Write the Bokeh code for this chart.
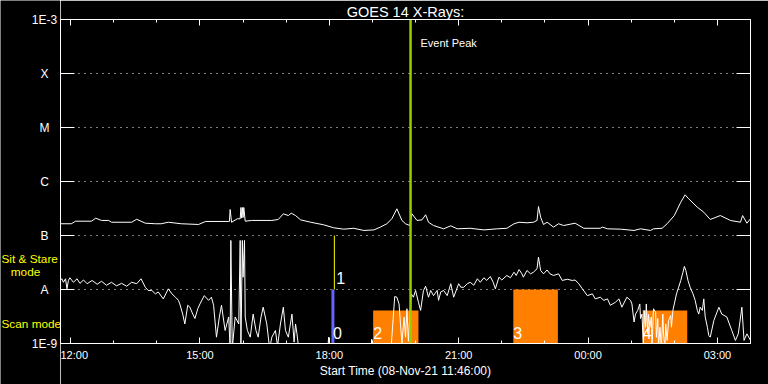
from bokeh.plotting import figure
from bokeh.layouts import row
from bokeh.core.properties import value
from bokeh.models import (ColumnDataSource, FixedTicker, LinearAxis, LogAxis,
                          Label, LabelSet, Range1d)
from bokeh.embed import file_html
from bokeh.resources import INLINE

# ---------------- data ----------------
START = "11:46"
END = "03:46"
x_tick_labels = ["12:00", "15:00", "18:00", "21:00", "00:00", "03:00"]
y_ticks = [1e-9, 1e-8, 1e-7, 1e-6, 1e-5, 1e-4, 1e-3]
y_tick_labels = ["1E-9", "A", "B", "C", "M", "X", "1E-3"]

# long channel (upper curve)
long_t = ["11:46", "12:01", "12:07", "12:29", "12:35", "12:43", "12:53", "12:57", "13:25", "13:32",
          "13:44", "13:58", "14:06", "14:16", "14:34", "14:58", "15:08", "15:40", "15:41", "15:42",
          "15:44", "15:52", "15:56", "15:57", "15:58", "15:59", "16:00", "16:01", "16:03", "16:12",
          "16:40", "16:49", "16:56", "17:03", "17:07", "17:13", "17:20", "17:34", "17:52", "18:06",
          "18:20", "18:34", "18:48", "19:02", "19:11", "19:20", "19:27", "19:34", "19:41", "19:46",
          "19:52", "19:55", "20:02", "20:09", "20:14", "20:18", "20:25", "20:39", "20:49", "20:58",
          "21:16", "21:35", "21:54", "22:07", "22:17", "22:24", "22:35", "22:44", "22:49", "22:51",
          "22:54", "22:58", "23:03", "23:12", "23:19", "23:26", "23:42", "23:54", "00:17", "00:20",
          "00:27", "00:45", "01:04", "01:13", "01:27", "01:31", "01:43", "01:50", "02:00", "02:09",
          "02:15", "02:20", "02:32", "02:41", "02:50", "03:04", "03:18", "03:32", "03:35", "03:41",
          "03:46"]
long_f = [1.65e-7, 1.65e-7, 1.84e-7, 1.84e-7, 2.09e-7, 1.90e-7, 1.90e-7, 1.76e-7, 1.76e-7, 2.00e-7,
          1.69e-7, 1.65e-7, 1.65e-7, 1.76e-7, 1.65e-7, 1.60e-7, 1.82e-7, 1.82e-7, 1.82e-7, 3.03e-7,
          1.76e-7, 2.04e-7, 2.04e-7, 3.30e-7, 2.10e-7, 3.30e-7, 2.15e-7, 3.30e-7, 1.84e-7, 1.90e-7,
          1.90e-7, 1.98e-7, 2.52e-7, 2.34e-7, 2.59e-7, 2.34e-7, 1.95e-7, 1.76e-7, 1.58e-7, 1.39e-7,
          1.31e-7, 1.36e-7, 1.24e-7, 1.27e-7, 1.43e-7, 1.65e-7, 2.04e-7, 3.12e-7, 1.90e-7, 1.65e-7,
          1.53e-7, 2.52e-7, 1.90e-7, 1.95e-7, 2.42e-7, 1.76e-7, 1.53e-7, 1.33e-7, 1.51e-7, 1.33e-7,
          1.36e-7, 1.27e-7, 1.33e-7, 1.36e-7, 1.65e-7, 1.76e-7, 1.72e-7, 1.76e-7, 1.90e-7, 3.44e-7,
          2.18e-7, 1.60e-7, 1.76e-7, 1.43e-7, 1.65e-7, 1.53e-7, 1.69e-7, 1.36e-7, 1.36e-7, 1.43e-7,
          1.33e-7, 1.31e-7, 1.24e-7, 1.33e-7, 1.24e-7, 1.33e-7, 1.36e-7, 1.65e-7, 2.34e-7, 4.14e-7,
          5.67e-7, 4.78e-7, 3.34e-7, 2.70e-7, 1.98e-7, 2.34e-7, 1.90e-7, 1.76e-7, 2.34e-7, 1.69e-7,
          2.04e-7]

# short channel (lower curve), in four pieces
short_t_1 = ["11:46", "11:48", "11:50", "11:53", "11:55", "11:57", "11:59", "12:04", "12:09", "12:13",
             "12:18", "12:23", "12:30", "12:37", "12:43", "12:50", "12:57", "13:04", "13:11", "13:18",
             "13:25", "13:32", "13:38", "13:44", "13:48", "13:53", "13:58", "14:02", "14:09", "14:16",
             "14:21", "14:26", "14:30", "14:32", "14:36", "14:39", "14:43", "14:46", "14:50", "14:53",
             "14:57", "15:00", "15:06", "15:12", "15:16", "15:19", "15:23", "15:27", "15:30", "15:35"]
short_f_1 = [1.50e-8, 1.58e-8, 1.36e-8, 1.58e-8, 1.03e-8, 1.47e-8, 1.65e-8, 1.36e-8, 1.58e-8, 1.30e-8,
             1.50e-8, 1.28e-8, 1.47e-8, 1.25e-8, 1.42e-8, 1.20e-8, 1.36e-8, 1.17e-8, 1.30e-8, 1.15e-8,
             1.36e-8, 1.28e-8, 1.58e-8, 1.10e-8, 9.6e-9, 9.6e-9, 8.3e-9, 9.0e-9, 6.7e-9, 1.03e-8,
             8.3e-9, 7.2e-9, 6.3e-9, 5.4e-9, 3.5e-9, 2.3e-9, 5.1e-9, 4.7e-9, 3.5e-9, 2.9e-9,
             4.4e-9, 5.4e-9, 7.7e-9, 6.3e-9, 7.2e-9, 5.1e-9, 1.31e-9, 3.1e-9, 5.1e-9, 1.74e-9]

short_t_2 = ["15:40", "15:42", "15:43", "15:45", "15:49", "15:54", "15:56", "15:57", "15:59", "16:00",
             "16:02", "16:03", "16:06", "16:10", "16:14", "16:18", "16:21", "16:25", "16:28", "16:33",
             "16:37", "16:40", "16:45", "16:48", "16:52", "16:56", "16:59", "17:03", "17:08", "17:11",
             "17:13", "17:15", "17:17", "17:20", "17:57", "17:59", "18:01", "18:57", "18:59", "19:01",
             "19:25", "19:27", "19:31", "19:34", "19:37", "19:39", "19:41", "19:44", "19:46", "19:48",
             "19:50", "19:54", "19:57", "20:00", "20:04", "20:07", "20:11", "20:14", "20:18", "20:21"]
short_f_2 = [3.1e-9, 8e-10, 8.1e-8, 8e-10, 3.1e-9, 2.3e-9, 8.1e-8, 8e-10, 8.1e-8, 1.69e-8,
             8.1e-8, 3.1e-9, 1.74e-9, 1.31e-9, 3.5e-9, 1.74e-9, 1.31e-9, 3.1e-9, 4.7e-9, 2.3e-9,
             8e-10, 1.31e-9, 1.74e-9, 9e-10, 2.3e-9, 4.7e-9, 1.74e-9, 1.31e-9, 3.5e-9, 1.06e-9,
             2.3e-9, 1.51e-9, 9e-10, 5e-10, 5e-10, 1.31e-9, 5e-10, 5e-10, 1.2e-9, 5e-10,
             5e-10, 1.31e-9, 7.4e-9, 7.2e-9, 5.4e-9, 2.3e-9, 1.0e-9, 3.1e-9, 1.31e-9, 4.4e-9,
             1.1e-9, 8.3e-9, 7.2e-9, 9.6e-9, 5.8e-9, 4.1e-9, 9.6e-9, 1.15e-8, 7.2e-9, 9.6e-9]

short_t_3 = ["20:25", "20:30", "20:32", "20:35", "20:39", "20:44", "20:49", "20:53", "21:00", "21:03",
             "21:07", "21:12", "21:16", "21:21", "21:26", "21:30", "21:35", "21:39", "21:44", "21:48",
             "21:51", "21:56", "22:00", "22:07", "22:12", "22:17", "22:20", "22:24", "22:28", "22:30",
             "22:35", "22:40", "22:44", "22:49", "22:51", "22:54", "22:58", "23:03", "23:07", "23:12",
             "23:19", "23:24", "23:31", "23:38", "23:42", "23:47", "23:52", "23:59", "00:06", "00:10",
             "00:17", "00:22", "00:27", "00:31", "00:38", "00:43", "00:47", "00:54", "00:59"]
short_f_3 = [7.7e-9, 9.6e-9, 6.3e-9, 9.0e-9, 9.6e-9, 7.7e-9, 1.28e-8, 7.2e-9, 1.28e-8, 1.10e-8,
             1.10e-8, 1.28e-8, 1.36e-8, 1.20e-8, 1.58e-8, 1.36e-8, 1.65e-8, 1.47e-8, 1.74e-8, 1.36e-8,
             1.03e-8, 1.69e-8, 1.50e-8, 1.82e-8, 1.65e-8, 2.09e-8, 1.82e-8, 2.34e-8, 1.95e-8, 1.69e-8,
             2.25e-8, 1.95e-8, 2.09e-8, 2.42e-8, 3.97e-8, 2.25e-8, 1.95e-8, 2.30e-8, 1.95e-8, 1.82e-8,
             1.95e-8, 1.47e-8, 1.55e-8, 1.47e-8, 1.50e-8, 1.28e-8, 1.03e-8, 7.7e-9, 8.3e-9, 6.7e-9,
             7.2e-9, 6.3e-9, 6.7e-9, 5.1e-9, 5.8e-9, 6.7e-9, 4.7e-9, 7.2e-9, 6.3e-9]

short_t_4 = ["01:01", "01:04", "01:06", "01:09", "01:12", "01:13", "01:15", "01:17", "01:18", "01:20",
             "01:21", "01:23", "01:24", "01:26", "01:28", "01:29", "01:31", "01:34", "01:35", "01:37",
             "01:38", "01:40", "01:42", "01:44", "01:45", "01:47", "01:48", "01:50", "01:52", "01:55",
             "01:56", "01:58", "02:00", "02:03", "02:06", "02:09", "02:12", "02:14", "02:16", "02:19",
             "02:22", "02:26", "02:29", "02:32", "02:34", "02:36", "02:39", "02:41", "02:43", "02:46",
             "02:48", "02:50", "02:55", "03:02", "03:06", "03:13", "03:20", "03:25", "03:29", "03:34",
             "03:37", "03:41", "03:46"]
short_f_4 = [5.4e-9, 2.5e-9, 3.5e-9, 4.1e-9, 5.4e-9, 2.9e-9, 3.5e-9, 8e-10, 4.1e-9, 2.0e-9,
             5.4e-9, 1.5e-9, 3.5e-9, 2.0e-9, 3.1e-9, 8e-10, 4.4e-9, 3.8e-9, 1.3e-9, 2.9e-9,
             8e-10, 2.0e-9, 8e-10, 3.5e-9, 1.5e-9, 8e-10, 2.3e-9, 1.14e-9, 2.67e-9, 3.3e-9,
             2.0e-9, 4.1e-9, 5.4e-9, 8.3e-9, 1.1e-8, 1.47e-8, 2.09e-8, 2.67e-8, 2.25e-8, 1.47e-8,
             1.1e-8, 8.3e-9, 6.3e-9, 4.1e-9, 3.5e-9, 4.7e-9, 4.1e-9, 6.7e-9, 3.1e-9, 2.0e-9,
             1.4e-9, 1.31e-9, 2.67e-9, 4.7e-9, 3.5e-9, 3.1e-9, 1.74e-9, 1.14e-9, 1.51e-9, 4.7e-9,
             1.14e-9, 1.51e-9, 1.14e-9]

scan_start = ["19:01", "22:16", "01:16"]
scan_end = ["20:04", "23:18", "02:18"]
scan_top = [4.1e-9, 1.0e-8, 4.1e-9]
scan_ids = ["2", "3", "4"]

stare_time = "18:05"      # blue bar (0)
stare_top = 1.0e-8
stare_line_time = "18:07"  # yellow line (1)
stare_line_lo = 1.0e-8
stare_line_hi = 1.0e-7
event_peak = "19:53"

TITLE = "GOES 14 X-Rays:"
XLABEL = "Start Time (08-Nov-21 11:46:00)"
captions = ["Sit & Stare", "mode", "Scan mode"]


def hrs(s):
    h, m = s.split(":")
    v = int(h) + int(m) / 60.0
    if v < 11:
        v += 24
    return v


FONT = "Liberation Sans"
x0, x1 = hrs(START), hrs(END)
ybot, ytop = y_ticks[0], y_ticks[-1]
short_t = short_t_1 + short_t_2 + short_t_3 + short_t_4
short_f = short_f_1 + short_f_2 + short_f_3 + short_f_4

# layout (pixels)
LEFT_W, TOP_B, BOT_B, RIGHT_B, H = 60, 19, 41, 18, 384
DEC_PX = (H - TOP_B - BOT_B) / 6.0

# ================= main plot =================
p = figure(width=768 - LEFT_W, height=H, y_axis_type="log",
           x_range=Range1d(x0, x1), y_range=Range1d(ybot, ytop),
           output_backend="svg", toolbar_location=None,
           background_fill_color="black", border_fill_color="black",
           outline_line_color="white", outline_line_width=1,
           min_border_left=0, min_border_right=RIGHT_B, min_border_top=TOP_B,
           min_border_bottom=BOT_B)
p.frame_align = False

p.title.text = TITLE
p.title.text_color = "white"
p.title.text_font = FONT
p.title.text_font_size = "14.5px"
p.title.text_font_style = "normal"
p.title.align = "center"
p.title.standoff = 0

xt = FixedTicker(ticks=[hrs(t) for t in x_tick_labels], minor_ticks=list(range(12, 28)))
xa = p.xaxis[0]
xa.ticker = xt
xa.major_label_overrides = {hrs(t): t for t in x_tick_labels}
xa.axis_line_color = "white"
xa.major_tick_line_color = "white"
xa.minor_tick_line_color = "white"
xa.major_tick_in = 6
xa.major_tick_out = 0
xa.minor_tick_in = 3
xa.minor_tick_out = 0
xa.major_label_text_color = "white"
xa.major_label_text_font = FONT
xa.major_label_text_font_size = "11px"
xa.major_label_standoff = 5
xa.axis_label = XLABEL
xa.axis_label_text_color = "white"
xa.axis_label_text_font = FONT
xa.axis_label_text_font_size = "12px"
xa.axis_label_text_font_style = "normal"
xa.axis_label_standoff = 0

top = LinearAxis(ticker=xt, axis_line_color="white", major_tick_line_color="white",
                 minor_tick_line_color="white", major_tick_in=6, major_tick_out=0,
                 minor_tick_in=3, minor_tick_out=0, major_label_text_color=None,
                 major_label_standoff=0)
p.add_layout(top, "above")

yt = FixedTicker(ticks=y_ticks, minor_ticks=[])
ya = p.yaxis[0]
ya.ticker = yt
ya.axis_line_color = "white"
ya.major_tick_line_color = "white"
ya.minor_tick_line_color = None
ya.major_tick_in = 14
ya.major_tick_out = 0
ya.major_label_text_color = None
ya.major_label_standoff = 0

right = LogAxis(ticker=yt, axis_line_color="white", major_tick_line_color="white",
                minor_tick_line_color=None, major_tick_in=14, major_tick_out=0,
                major_label_text_color=None, major_label_standoff=0)
p.add_layout(right, "right")

p.xgrid.visible = False
p.ygrid.ticker = FixedTicker(ticks=y_ticks[1:-1], minor_ticks=[])
p.ygrid.grid_line_color = "white"
p.ygrid.grid_line_dash = "1 5"
p.ygrid.grid_line_width = 1

p.quad(left=[hrs(t) for t in scan_start], right=[hrs(t) for t in scan_end],
       bottom=[ybot] * len(scan_start), top=scan_top,
       fill_color="#ff8000", line_color=None)

p.line([hrs(t) for t in long_t], long_f, line_color="white", line_width=1)
p.line([hrs(t) for t in short_t], short_f, line_color="white", line_width=1)

p.segment(x0=[hrs(stare_time)], y0=[ybot], x1=[hrs(stare_time)], y1=[stare_top],
          line_color="#6464ff", line_width=3)
p.segment(x0=[hrs(stare_line_time)], y0=[stare_line_lo], x1=[hrs(stare_line_time)],
          y1=[stare_line_hi], line_color="#ffff00", line_width=1)

p.segment(x0=[hrs(event_peak)], y0=[ybot], x1=[hrs(event_peak)], y1=[ytop],
          line_color="#99cc00", line_width=2.5)
p.add_layout(Label(x=hrs(event_peak), y=ytop, x_offset=10, y_offset=-23, text="Event Peak",
                   text_color="white", text_font=FONT, text_font_size="11px",
                   text_baseline="middle", text_align="left"))

num_src = ColumnDataSource(dict(
    x=[hrs(stare_time)] + [hrs(t) for t in scan_start],
    y=[ybot] * (1 + len(scan_start)),
    t=["0"] + scan_ids))
p.add_layout(LabelSet(x="x", y="y", text="t", source=num_src, x_offset=0, y_offset=5,
                      text_color="white", text_font=value(FONT), text_font_size="16px",
                      text_baseline="alphabetic", text_align="left"))
p.add_layout(Label(x=hrs(stare_line_time), y=stare_line_lo, x_offset=2, y_offset=12, text="1",
                   text_color="white", text_font=FONT, text_font_size="16px",
                   text_baseline="alphabetic", text_align="left"))

# ================= left label strip (same log scale, extended by the borders) =================
lp = figure(width=LEFT_W, height=H, y_axis_type="log",
            x_range=Range1d(0, LEFT_W),
            y_range=Range1d(ybot / 10 ** (BOT_B / DEC_PX), ytop * 10 ** (TOP_B / DEC_PX)),
            output_backend="svg", toolbar_location=None,
            x_axis_location=None, y_axis_location=None,
            background_fill_color="black", border_fill_color="black",
            outline_line_color=None, min_border=0)
lp.frame_align = False
lp.grid.visible = False

ylab_src = ColumnDataSource(dict(x=[LEFT_W] * len(y_ticks), y=y_ticks, t=y_tick_labels))
lp.add_layout(LabelSet(x="x", y="y", text="t", source=ylab_src, x_offset=-16,
                       text_color="white", text_font=value(FONT), text_font_size="12px",
                       text_baseline="middle", text_align="center"))

for txt, dx, dy, al in [(captions[0], 1, 85, "left"),
                        (captions[1], 25, 72, "center"),
                        (captions[2], 1, 19.5, "left")]:
    lp.add_layout(Label(x=0, y=ybot, x_offset=dx, y_offset=dy, text=txt,
                        text_color="#ffff00", text_font=FONT, text_font_size="11.8px",
                        text_baseline="middle", text_align=al))

layout = row(lp, p, spacing=0)
open("out.html", "w").write(file_html(layout, INLINE))
